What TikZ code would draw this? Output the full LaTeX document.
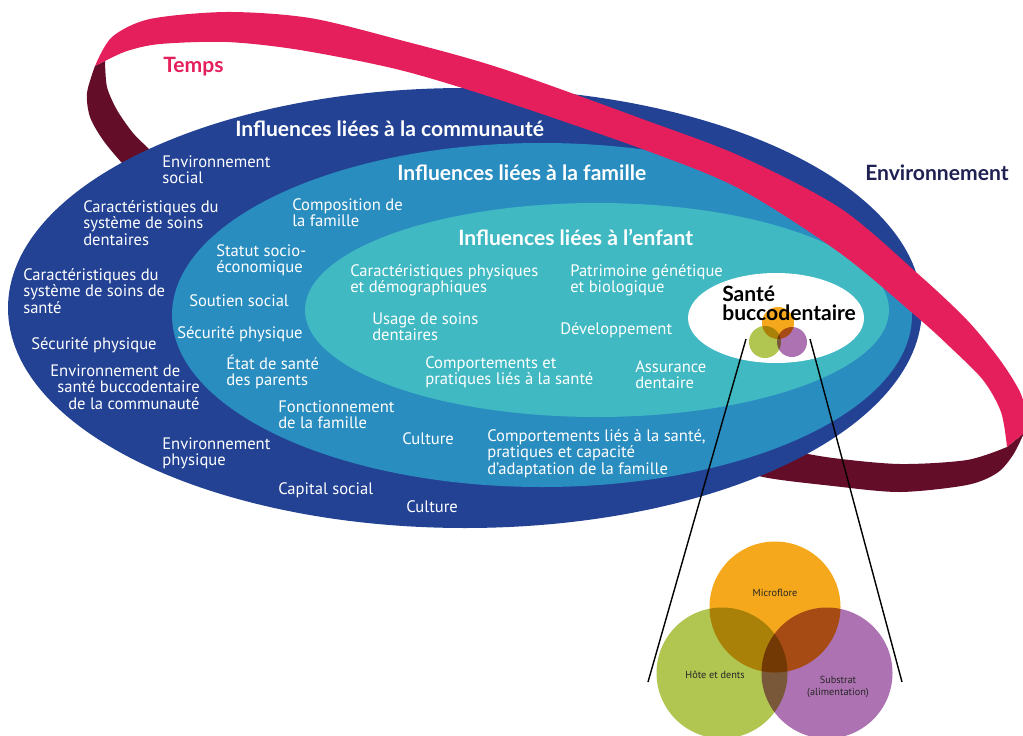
\documentclass[tikz,border=0pt]{standalone}
\usepackage{fontspec}
\setmainfont{PT Sans}
\newfontfamily\titlefont{Lato}
\definecolor{dblue}{HTML}{234294}
\definecolor{mblue}{HTML}{2A8DC0}
\definecolor{teal2}{HTML}{40B9C3}
\definecolor{pinkr}{HTML}{E41F5B}
\definecolor{maroon}{HTML}{640D28}
\definecolor{navy}{HTML}{1F2153}
\definecolor{vorange}{HTML}{F5A81C}
\definecolor{vgreen}{HTML}{B1C551}
\definecolor{vpurple}{HTML}{AD72B1}
\tikzset{
  bt/.style={font=\fontsize{11.8}{11.8}\selectfont, text=white, align=left, anchor=base west, inner sep=0pt},
  tt/.style={font=\titlefont\bfseries\fontsize{15}{15}\selectfont, text=white, anchor=base west, inner sep=0pt},
  vt/.style={font=\fontsize{7.3}{8.8}\selectfont, text=black!85, align=center, inner sep=0pt},
  zoomline/.style={black, line width=1pt}
}
\begin{document}
\begin{tikzpicture}[x=0.025cm,y=-0.025cm]
\useasboundingbox (0,0) rectangle (1023,735);
\clip (0,0) rectangle (1023,735);
% back parts of the ribbon
\fill[maroon] plot[smooth] coordinates {(95,66) (87,93) (90,117) (103,140) (122,163) (150,192) (175,215)}
  -- plot[smooth] coordinates {(185,185) (150,150) (133,133) (117,110) (107,87) (105,61)} -- cycle;
\fill[maroon] plot[smooth] coordinates {(1007,447) (967,460) (900,464) (833,458) (790,450) (740,435)}
  -- plot[smooth] coordinates {(720,462) (763,477) (833,486) (900,492) (967,485) (997,473) (1013,455) (1024,433)} -- cycle;
% nested ellipses
\fill[dblue] (465,308) ellipse [x radius=457, y radius=220];
\fill[mblue] (542,315) ellipse [x radius=370, y radius=172];
\fill[teal2] (597,310) ellipse [x radius=292, y radius=107];
% front part of the ribbon
\fill[pinkr] plot[smooth] coordinates {(95,66) (112,37) (150,19) (227,12) (310,18) (400,40) (500,68) (645,120) (740,156) (840,208) (917,273) (967,320) (1000,360) (1020,392) (1026,415) (1024,433)}
  -- plot[smooth] coordinates {(1007,447) (1001,412) (983,380) (950,347) (917,317) (840,253) (740,189) (645,150) (500,100) (400,70) (300,50) (227,42) (160,44) (127,51) (105,61)} -- cycle;
% oral health core
\fill[white] (776,318) ellipse [x radius=88, y radius=45];
\begin{scope}[blend group=multiply]
  \fill[vorange] (778,323) circle [radius=16];
  \fill[vgreen] (765,342) circle [radius=16];
  \fill[vpurple] (792,342) circle [radius=15];
\end{scope}
\coordinate (sg) at (746,339);
\coordinate (sp) at (810,339);
\coordinate (bl) at (648,682);
\coordinate (br) at (902,682);
\draw[zoomline] (sg) -- (bl);
\draw[zoomline] (sp) -- (br);
\begin{scope}[blend group=multiply]
  \fill[vorange] (775,607) circle [radius=65.5];
  \fill[vgreen] (722,673) circle [radius=65.5];
  \fill[vpurple] (827,673) circle [radius=65.5];
\end{scope}
\node[vt] (micro) at (775,593) {Microflore};
\node[vt] (hote) at (715,675) {Hôte et dents};
\node[vt] (subs) at (838,687) {Substrat\\(alimentation)};
% titles
\node[tt, text=pinkr] (temps) at (163,73) {Temps};
\node[tt, text=navy] (env) at (865,180) {Environnement};
\node[tt] (tcom) at (235,137) {Influences liées à la communauté};
\node[tt] (tfam) at (397,180) {Influences liées à la famille};
\node[tt] (tenf) at (458,245) {Influences liées à l’enfant};
\node[tt, text=black, align=left, font=\titlefont\bfseries\fontsize{15}{13.5}\selectfont] (sante) at (722,320) {Santé\\buccodentaire};
% community
\node[bt] (c1) at (162,183.7) {Environnement\\social};
\node[bt] (c2) at (83,245.4) {Caractéristiques du\\système de soins\\dentaires};
\node[bt] (c3) at (23,313.4) {Caractéristiques du\\système de soins de\\santé};
\node[bt] (c4) at (31,349) {Sécurité physique};
\node[bt] (c5) at (50,409.4) {Environnement de\\\hspace*{5pt}santé buccodentaire\\\hspace*{12.8pt}de la communauté};
\node[bt] (c6) at (162,465.7) {Environnement\\physique};
\node[bt] (c7) at (278,494) {Capital social};
\node[bt] (c8) at (406,512) {Culture};
% family
\node[bt] (f1) at (292,226.7) {Composition de\\la famille};
\node[bt] (f2) at (216,272.7) {Statut socio-\\économique};
\node[bt] (f3) at (189,306) {Soutien social};
\node[bt] (f4) at (177,338) {Sécurité physique};
\node[bt] (f5) at (226,385.7) {État de santé\\des parents};
\node[bt] (f6) at (278,428.7) {Fonctionnement\\de la famille};
\node[bt] (f7) at (402,444) {Culture};
\node[bt] (f8) at (487,474.4) {Comportements liés à la santé,\\pratiques et capacité\\d’adaptation de la famille};
% child
\node[bt] (e1) at (350,292.7) {Caractéristiques physiques\\et démographiques};
\node[bt] (e2) at (570,292.7) {Patrimoine génétique\\et biologique};
\node[bt] (e3) at (372,340.7) {Usage de soins\\dentaires};
\node[bt] (e4) at (560,334) {Développement};
\node[bt] (e5) at (425,384.7) {Comportements et\\pratiques liés à la santé};
\node[bt] (e6) at (635,388.7) {Assurance\\dentaire};
\end{tikzpicture}
\end{document}
